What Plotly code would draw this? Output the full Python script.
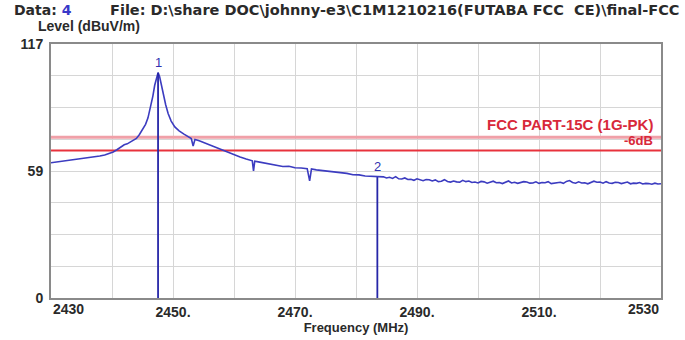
import plotly.graph_objects as go

# ---- data ----
freq_mhz = [
    2430.0, 2430.8, 2431.6, 2432.4, 2433.2, 2434.0, 2434.8, 2435.6, 2436.4, 2437.2,
    2438.0, 2438.8, 2439.5, 2440.2, 2440.8, 2441.4, 2442.0, 2442.5, 2443.0, 2443.5,
    2444.0, 2444.5, 2445.0, 2445.5, 2445.9, 2446.3, 2446.7, 2447.0, 2447.3, 2447.55,
    2447.8, 2448.1, 2448.4, 2448.8, 2449.2, 2449.7, 2450.3, 2451.0, 2451.8, 2452.5,
    2453.0, 2453.3, 2453.6, 2454.3, 2455.0, 2456.0, 2457.0, 2458.0, 2459.0, 2460.0,
    2461.0, 2462.0, 2463.0, 2463.2, 2463.4, 2464.0, 2465.0, 2466.0, 2467.0, 2468.0,
    2469.0, 2470.0, 2471.0, 2472.0, 2472.4, 2472.7, 2473.5, 2474.5, 2475.5, 2476.5,
    2477.5, 2478.5, 2479.5, 2480.5, 2481.5, 2482.5, 2483.5, 2484.5,
    2485.0, 2485.5, 2486.0, 2486.5, 2487.0, 2487.5, 2488.0, 2488.5, 2489.0, 2489.5,
    2490.0, 2490.5, 2491.0, 2491.5, 2492.0, 2492.5, 2493.0, 2493.5, 2494.0, 2494.5,
    2495.0, 2495.5, 2496.0, 2496.5, 2497.0, 2497.5, 2498.0, 2498.5, 2499.0, 2499.5,
    2500.0, 2500.5, 2501.0, 2501.5, 2502.0, 2502.5, 2503.0, 2503.5, 2504.0, 2504.5,
    2505.0, 2505.5, 2506.0, 2506.5, 2507.0, 2507.5, 2508.0, 2508.5, 2509.0, 2509.5,
    2510.0, 2510.5, 2511.0, 2511.5, 2512.0, 2512.5, 2513.0, 2513.5, 2514.0, 2514.5,
    2515.0, 2515.5, 2516.0, 2516.5, 2517.0, 2517.5, 2518.0, 2518.5, 2519.0, 2519.5,
    2520.0, 2520.5, 2521.0, 2521.5, 2522.0, 2522.5, 2523.0, 2523.5, 2524.0, 2524.5,
    2525.0, 2525.5, 2526.0, 2526.5, 2527.0, 2527.5, 2528.0, 2528.5, 2529.0, 2529.5,
    2530.0,
]
level_dbuv = [
    62.3, 62.6, 62.8, 63.2, 63.4, 63.6, 64.0, 64.3, 64.5, 64.9,
    65.4, 65.9, 66.6, 67.3, 68.3, 69.6, 70.6, 71.0, 71.8, 72.6,
    73.5, 75.3, 77.5, 80.0, 83.0, 87.5, 93.0, 98.0, 102.0, 103.8,
    102.0, 98.0, 93.5, 89.0, 85.0, 81.5, 78.8, 77.0, 75.5, 74.3,
    73.5, 70.0, 73.0, 72.4, 71.6, 70.6, 69.6, 68.5, 67.3, 66.0,
    64.9, 64.0, 63.2, 58.5, 63.0, 62.7, 62.2, 61.8, 61.2, 60.6,
    60.7, 60.0, 59.9, 59.6, 54.0, 59.4, 59.0, 58.7, 58.2, 58.1,
    57.5, 57.4, 56.8, 56.7, 56.2, 56.1, 55.7, 55.8,
    55.3, 55.6, 55.1, 55.9, 54.9, 54.8, 55.3, 54.6, 54.7, 54.2,
    54.9, 54.4, 54.0, 54.6, 54.5, 53.9, 54.4, 53.6, 53.8, 54.5,
    53.7, 53.4, 53.9, 53.5, 53.3, 54.2, 53.6, 53.9, 53.2, 53.4,
    53.0, 53.7, 53.5, 52.9, 53.3, 53.8, 53.1, 53.2, 52.7, 53.4,
    53.9, 53.0, 53.3, 52.8, 53.1, 53.6, 53.4, 52.9, 53.0, 53.5,
    52.8, 53.2, 53.1, 53.6, 52.7, 52.9, 53.4, 53.3, 52.8, 53.7,
    54.1, 53.2, 52.9, 53.5, 53.0, 53.1, 52.6, 53.2, 53.8, 53.3,
    53.4, 52.9, 53.6, 53.0, 52.8, 53.3, 53.2, 52.7, 53.0, 53.4,
    52.6, 52.9, 52.8, 53.2, 52.5, 52.8, 52.7, 52.4, 52.9, 52.5,
    52.6,
]

marker_freq = [2447.55, 2483.5]
marker_level = [103.8, 55.7]
marker_labels = ["1", "2"]

limit_level = 74.0
margin_db = 6.0
limit_label = "FCC PART-15C (1G-PK)"
margin_label = "-6dB"

x_range = [2430, 2530]
x_grid = [2430, 2440, 2450, 2460, 2470, 2480, 2490, 2500, 2510, 2520, 2530]
x_ticktext = ["", "", "2450.", "", "2470.", "", "2490.", "", "2510.", "", ""]
x_end_labels = ["2430", "2530"]

y_range = [0, 117]
y_grid = [0, 14.625, 29.25, 43.875, 58.5, 73.125, 87.75, 102.375, 117]
y_ticktext = ["0", "", "", "", "59", "", "", "", "117"]

header_data_label = "Data:"
header_data_value = "4"
header_file = "File: D:\\share DOC\\johnny-e3\\C1M1210216(FUTABA FCC  CE)\\final-FCC"

TXT = "#2a2a2a"
FONT = "Liberation Sans"
HFONT = "DejaVu Sans"

fig = go.Figure()

# limit lines
fig.add_trace(go.Scatter(x=x_range, y=[limit_level, limit_level], mode="lines",
                         line=dict(color="#f0a0a8", width=3), hoverinfo="skip"))
fig.add_trace(go.Scatter(x=x_range, y=[limit_level - margin_db] * 2, mode="lines",
                         line=dict(color="#e8323c", width=2), hoverinfo="skip"))

# spectrum trace
fig.add_trace(go.Scatter(x=freq_mhz, y=level_dbuv, mode="lines",
                         line=dict(color="#3c3cc0", width=1.6)))

# marker lines
for f, lv in zip(marker_freq, marker_level):
    fig.add_trace(go.Scatter(x=[f, f], y=[0, lv], mode="lines",
                             line=dict(color="#2626a8", width=1.8), hoverinfo="skip"))

for f, lv, t in zip(marker_freq, marker_level, marker_labels):
    fig.add_annotation(x=f, y=lv, text=t, showarrow=False, xanchor="center",
                       yanchor="bottom", yshift=1,
                       font=dict(family=FONT, size=13, color="#3030b0"))

# limit labels
fig.add_annotation(x=x_range[1], y=limit_level, text="<b>" + limit_label + "</b>",
                   showarrow=False, xanchor="right", yanchor="bottom",
                   xshift=-6, yshift=2,
                   font=dict(family=FONT, size=15, color="#d8283a"))
fig.add_annotation(x=x_range[1], y=limit_level, text="<b>" + margin_label + "</b>",
                   showarrow=False, xanchor="right", yanchor="top",
                   xshift=-6, yshift=6,
                   font=dict(family=FONT, size=13, color="#d8283a"))

# end x labels (aligned inward like the original)
fig.add_annotation(x=x_range[0], y=0, yref="paper", text="<b>" + x_end_labels[0] + "</b>",
                   showarrow=False, xanchor="left", yanchor="top", yshift=-1,
                   font=dict(family=FONT, size=14, color=TXT))
fig.add_annotation(x=x_range[1], y=0, yref="paper", text="<b>" + x_end_labels[1] + "</b>",
                   showarrow=False, xanchor="right", yanchor="top", yshift=-1,
                   font=dict(family=FONT, size=14, color=TXT))

# header
fig.add_annotation(xref="paper", yref="paper", x=-0.064, y=1.172, xanchor="left", yanchor="top",
                   text="<b>" + header_data_label + " <span style='color:#3838c8'>" + header_data_value + "</span></b>",
                   showarrow=False, font=dict(family=HFONT, size=14, color=TXT))
fig.add_annotation(xref="paper", yref="paper", x=0.093, y=1.172, xanchor="left", yanchor="top",
                   text="<b>" + header_file + "</b>",
                   showarrow=False, font=dict(family=HFONT, size=14.5, color=TXT))
fig.add_annotation(xref="paper", yref="paper", x=-0.024, y=1.069, xanchor="left", yanchor="middle",
                   text="<b>Level (dBuV/m)</b>",
                   showarrow=False, font=dict(family=FONT, size=14, color=TXT))

fig.update_layout(
    width=685, height=340,
    margin=dict(l=51, r=24, t=44, b=42),
    paper_bgcolor="white", plot_bgcolor="white",
    showlegend=False,
    font=dict(family=FONT, size=14, color=TXT),
    xaxis=dict(range=x_range, tickvals=x_grid, ticktext=["<b>" + t + "</b>" if t else "" for t in x_ticktext],
               showgrid=True, gridcolor="#d6d6d6", gridwidth=1, zeroline=False,
               showline=True, linecolor="#8a8a8a", linewidth=2, mirror=True,
               ticks="", ticklabelstandoff=0, automargin=False,
               title=dict(text="<b>Frequency (MHz)</b>", standoff=3,
                          font=dict(family=FONT, size=13, color=TXT))),
    yaxis=dict(range=y_range, tickvals=y_grid, ticktext=["<b>" + t + "</b>" if t else "" for t in y_ticktext],
               showgrid=True, gridcolor="#d6d6d6", gridwidth=1, zeroline=False,
               showline=True, linecolor="#8a8a8a", linewidth=2, mirror=True,
               ticks="", ticklabelstandoff=3, automargin=False),
)

fig.write_html("out.html")
